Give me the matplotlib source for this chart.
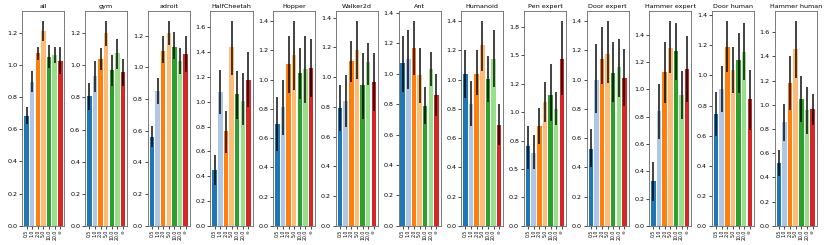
import matplotlib
matplotlib.use('Agg')
import matplotlib.pyplot as plt
from matplotlib.ticker import FormatStrFormatter
import numpy as np

TASKS = ['all', 'gym', 'adroit', 'HalfCheetah', 'Hopper', 'Walker2d', 'Ant',
         'Humanoid', 'Pen expert', 'Door expert', 'Hammer expert',
         'Door human', 'Hammer human']
SETTINGS = ['0.5', '1.0', '2.0', '5.0', '10.0', '20.0', '\u221e']

COLORS = ['#1f77b4', '#aec7e8', '#ff7f0e', '#ffbb78',
          '#2ca02c', '#98df8a', '#d62728']

# mean score per task, one value per setting
MEANS = [
    [0.685, 0.89, 1.07, 1.21, 1.05, 1.06, 1.025],
    [0.81, 0.935, 1.04, 1.20, 0.97, 1.075, 0.96],
    [0.56, 0.85, 1.10, 1.215, 1.127, 1.04, 1.085],
    [0.45, 1.08, 0.765, 1.44, 1.065, 1.01, 1.18],
    [0.695, 0.815, 1.11, 1.167, 1.045, 1.07, 1.08],
    [0.79, 0.84, 1.105, 1.18, 0.95, 1.10, 0.965],
    [1.07, 1.095, 1.17, 0.99, 0.79, 1.03, 0.86],
    [1.037, 0.837, 1.042, 1.236, 1.003, 1.145, 0.693],
    [0.70, 0.645, 0.878, 1.09, 1.155, 1.03, 1.468],
    [0.527, 1.0, 1.143, 1.175, 1.047, 1.087, 1.01],
    [0.327, 0.84, 1.127, 1.302, 1.285, 0.96, 1.15],
    [0.743, 0.91, 1.186, 1.035, 1.10, 1.157, 0.84],
    [0.516, 0.858, 1.183, 1.46, 1.05, 0.957, 0.965],
]
# lower / upper ends of the confidence intervals
LOWER = [
    [0.63, 0.83, 1.03, 1.15, 0.98, 1.01, 0.94],
    [0.72, 0.835, 0.97, 1.12, 0.87, 0.98, 0.87],
    [0.50, 0.77, 1.03, 1.14, 1.05, 0.96, 0.97],
    [0.33, 0.90, 0.59, 1.22, 0.86, 0.81, 0.96],
    [0.51, 0.62, 0.91, 0.93, 0.87, 0.84, 0.88],
    [0.635, 0.665, 0.97, 0.985, 0.72, 0.945, 0.77],
    [0.88, 0.90, 0.99, 0.81, 0.67, 0.92, 0.72],
    [0.875, 0.68, 0.895, 1.06, 0.845, 0.95, 0.55],
    [0.50, 0.50, 0.72, 0.91, 0.92, 0.89, 1.15],
    [0.40, 0.77, 0.97, 0.98, 0.85, 0.88, 0.82],
    [0.18, 0.64, 0.90, 1.12, 1.07, 0.78, 0.91],
    [0.60, 0.76, 1.02, 0.88, 0.88, 0.97, 0.64],
    [0.41, 0.70, 0.96, 1.22, 0.86, 0.76, 0.83],
]
UPPER = [
    [0.74, 0.96, 1.11, 1.27, 1.125, 1.11, 1.11],
    [0.89, 1.03, 1.11, 1.275, 1.065, 1.165, 1.04],
    [0.63, 0.935, 1.195, 1.29, 1.22, 1.12, 1.20],
    [0.57, 1.26, 0.93, 1.65, 1.25, 1.23, 1.40],
    [0.88, 1.0, 1.30, 1.40, 1.22, 1.30, 1.28],
    [0.95, 1.015, 1.245, 1.375, 1.16, 1.23, 1.16],
    [1.25, 1.29, 1.345, 1.17, 0.91, 1.14, 1.00],
    [1.20, 0.99, 1.20, 1.40, 1.16, 1.34, 0.835],
    [0.88, 0.80, 1.04, 1.27, 1.42, 1.18, 1.80],
    [0.66, 1.245, 1.36, 1.40, 1.26, 1.28, 1.21],
    [0.47, 1.04, 1.35, 1.50, 1.49, 1.135, 1.395],
    [0.89, 1.06, 1.36, 1.19, 1.28, 1.35, 1.035],
    [0.63, 1.01, 1.40, 1.69, 1.24, 1.15, 1.09],
]


def plot_task(ax, name, means, lower, upper):
    x = np.arange(len(SETTINGS))
    means = np.array(means)
    yerr = np.vstack([means - np.array(lower), np.array(upper) - means])
    ax.bar(x, means, width=0.8, color=COLORS)
    ax.errorbar(x, means, yerr=yerr, fmt='none', ecolor='black',
                alpha=0.8, elinewidth=1.3)
    ax.set_title(name, fontsize=4.6, pad=2.5)
    ax.set_xticks(x)
    ax.set_xticklabels(SETTINGS, rotation=90, fontsize=3.3)
    ax.tick_params(axis='y', labelsize=4.6, length=2, width=0.5, pad=1.5)
    ax.tick_params(axis='x', length=2, width=0.5, pad=1)
    ax.yaxis.set_major_formatter(FormatStrFormatter('%.1f'))
    ax.set_ylim(bottom=0)
    for spine in ax.spines.values():
        spine.set_linewidth(0.6)
        spine.set_color('#666666')


fig, axes = plt.subplots(1, len(TASKS), figsize=(8.3, 2.45), dpi=100)
fig.subplots_adjust(left=0.027, right=0.984, bottom=0.078, top=0.955,
                    wspace=0.49)
for i in range(len(TASKS)):
    plot_task(axes[i], TASKS[i], MEANS[i], LOWER[i], UPPER[i])

plt.savefig('out.png')
